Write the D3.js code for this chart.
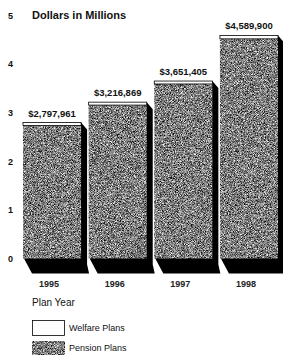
<!DOCTYPE html>
<html>
<head>
<meta charset="utf-8">
<script src="https://cdn.jsdelivr.net/npm/d3@7"></script>
<style>
  body { margin: 0; background: #fff; }
  svg { display: block; font-family: "Liberation Sans", Arial, sans-serif; }
</style>
</head>
<body>
<svg width="283" height="355"></svg>
<script>
// chart values (millions of dollars)
var years = ["1995", "1996", "1997", "1998"];
var totals = [2.797961, 3.216869, 3.651405, 4.5899];
var totalLabels = ["$2,797,961", "$3,216,869", "$3,651,405", "$4,589,900"];
var welfare = [0.06, 0.06, 0.06, 0.07];
var yTicks = [0, 1, 2, 3, 4, 5];

var svg = d3.select("svg");

// speckled grey texture for the pension bars
var defs = svg.append("defs");
var f = defs.append("filter").attr("id", "speckle")
    .attr("x", "0").attr("y", "0").attr("width", "1").attr("height", "1")
    .attr("color-interpolation-filters", "sRGB");
f.append("feTurbulence").attr("type", "fractalNoise")
    .attr("baseFrequency", 1.3).attr("numOctaves", 2).attr("seed", 7).attr("result", "t");
f.append("feColorMatrix").attr("in", "t").attr("type", "matrix")
    .attr("values", "1.7 0 0 0 -0.36  1.7 0 0 0 -0.36  1.7 0 0 0 -0.36  0 0 0 0 1")
    .attr("result", "g");
f.append("feComposite").attr("in", "g").attr("in2", "SourceGraphic").attr("operator", "in");

var x = d3.scaleBand().domain(years).range([23, 278]).paddingInner(0.115);
var y = d3.scaleLinear().domain([0, 5]).range([258.5, 15.5]);
var base = y(0);

// y axis numbers
var yAxis = svg.append("g")
    .attr("transform", "translate(13,0)")
    .call(d3.axisLeft(y).tickValues(yTicks).tickSize(0).tickPadding(0).tickFormat(d3.format("d")));
yAxis.select(".domain").remove();
yAxis.selectAll("text")
    .attr("font-size", "9px").attr("font-weight", "bold")
    .attr("font-family", "Liberation Sans, Arial, sans-serif").attr("fill", "#111");

svg.append("text")
    .attr("x", 32).attr("y", 19)
    .attr("font-size", "11px").attr("font-weight", "bold").attr("fill", "#111")
    .text("Dollars in Millions");

var g = svg.append("g");

years.forEach(function(yr, i) {
    var x0 = x(yr), x1 = x(yr) + x.bandwidth();
    var top = y(totals[i]);

    // black 3-D shadow: right side and floor
    g.append("polygon")
        .attr("points", [[x1, top], [x1 + 6, top + 7], [x1 + 6, base + 6], [x1 + 8, base + 15],
                         [x0 + 9, base + 15], [x0 + 1, base]].join(" "))
        .attr("fill", "#000");

    // pension part
    g.append("rect")
        .attr("x", x0).attr("y", y(totals[i] - welfare[i]))
        .attr("width", x.bandwidth()).attr("height", base - y(totals[i] - welfare[i]))
        .attr("fill", "#888").attr("filter", "url(#speckle)");

    // welfare part on top
    g.append("rect")
        .attr("x", x0).attr("y", top)
        .attr("width", x.bandwidth()).attr("height", y(totals[i] - welfare[i]) - top)
        .attr("fill", "#fff").attr("stroke", "#000").attr("stroke-width", 0.8);

    g.append("text")
        .attr("x", x0 + x.bandwidth() / 2).attr("y", top - 6)
        .attr("text-anchor", "middle")
        .attr("font-size", "9.5px").attr("font-weight", "bold").attr("fill", "#111")
        .text(totalLabels[i]);

    g.append("text")
        .attr("x", x0 + x.bandwidth() / 2 - 3).attr("y", 287)
        .attr("text-anchor", "middle")
        .attr("font-size", "9px").attr("font-weight", "bold").attr("fill", "#222")
        .text(yr);
});

svg.append("text")
    .attr("x", 32).attr("y", 306)
    .attr("font-size", "10px").attr("fill", "#111")
    .text("Plan Year");

// legend
svg.append("rect").attr("x", 32.5).attr("y", 320.5).attr("width", 32).attr("height", 15)
    .attr("fill", "#fff").attr("stroke", "#000").attr("stroke-width", 0.8);
svg.append("text").attr("x", 69).attr("y", 331)
    .attr("font-size", "9px").attr("fill", "#111").text("Welfare Plans");

svg.append("rect").attr("x", 32).attr("y", 341).attr("width", 33).attr("height", 15)
    .attr("fill", "#888").attr("filter", "url(#speckle)");
svg.append("text").attr("x", 69).attr("y", 351)
    .attr("font-size", "9px").attr("fill", "#111").text("Pension Plans");
</script>
</body>
</html>
